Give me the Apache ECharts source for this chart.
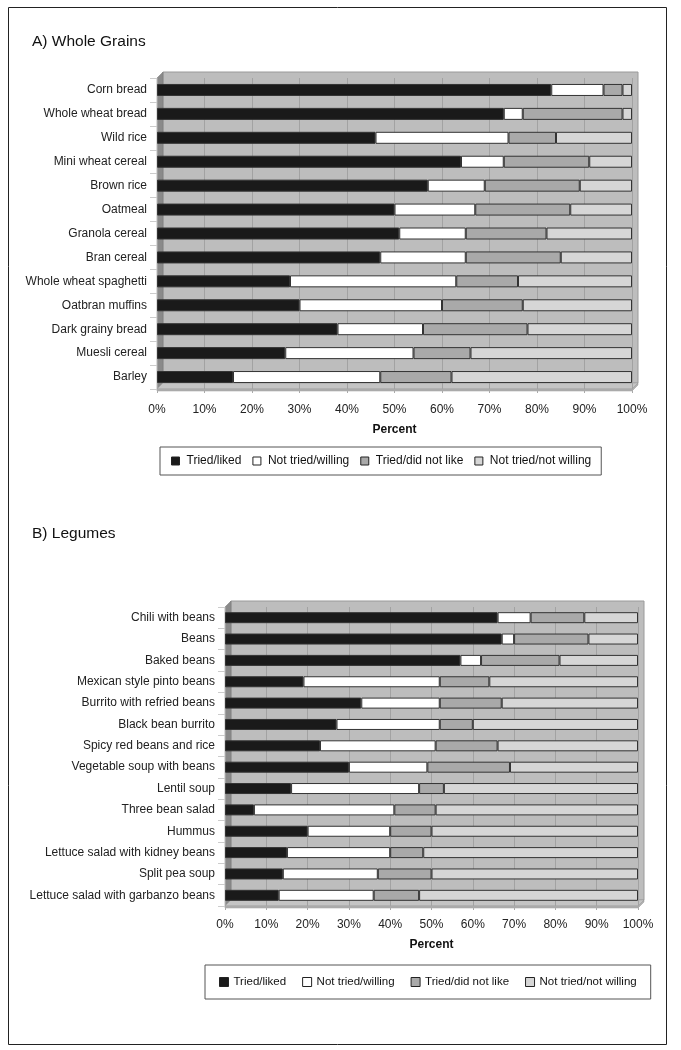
<!DOCTYPE html>
<html><head><meta charset="utf-8">
<script src="https://cdn.jsdelivr.net/npm/echarts@6/dist/echarts.min.js"></script>
<style>html,body{margin:0;padding:0;background:#fff}#c{width:681px;height:1050px}</style>
</head><body><div id="c"></div>
<script>
// ---- Data ----
const seriesNames = ['Tried/liked', 'Not tried/willing', 'Tried/did not like', 'Not tried/not willing'];
const grainCats = ['Corn bread','Whole wheat bread','Wild rice','Mini wheat cereal','Brown rice','Oatmeal','Granola cereal','Bran cereal','Whole wheat spaghetti','Oatbran muffins','Dark grainy bread','Muesli cereal','Barley'];
const grainLiked      = [83,73,46,64,57,50,51,47,28,30,38,27,16];
const grainWilling    = [11, 4,28, 9,12,17,14,18,35,30,18,27,31];
const grainDislike    = [ 4,21,10,18,20,20,17,20,13,17,22,12,15];
const grainNotWilling = [ 2, 2,16, 9,11,13,18,15,24,23,22,34,38];

const legumeCats = ['Chili with beans','Beans','Baked beans','Mexican style pinto beans','Burrito with refried beans','Black bean burrito','Spicy red beans and rice','Vegetable soup with beans','Lentil soup','Three bean salad','Hummus','Lettuce salad with kidney beans','Split pea soup','Lettuce salad with garbanzo beans'];
const legumeLiked      = [66,67,57,19,33,27,23,30,16, 7,20,15,14,13];
const legumeWilling    = [ 8, 3, 5,33,19,25,28,19,31,34,20,25,23,23];
const legumeDislike    = [13,18,19,12,15, 8,15,20, 6,10,10, 8,13,11];
const legumeNotWilling = [13,12,19,36,33,40,34,31,47,49,50,52,50,53];

const xTicks = [0,10,20,30,40,50,60,70,80,90,100];

// ---- Styles / layout ----
const colors = ['#1a1a1a', '#ffffff', '#a9a9a9', '#d6d6d6'];
const G1 = {left:157, right:632, top:78, bottom:389};
const G2 = {left:225, right:638, top:607, bottom:906};
const D = 6; // 3D depth

function planes(g){
  return [
    {type:'rect', z:-10, shape:{x:g.left+D, y:g.top-D, width:g.right-g.left, height:g.bottom-g.top}, style:{fill:'#bdbdbd', stroke:'#9a9a9a', lineWidth:1}},
    {type:'polygon', z:-9, shape:{points:[[g.left,g.top],[g.left+D,g.top-D],[g.left+D,g.bottom-D],[g.left,g.bottom]]}, style:{fill:'#8a8a8a', stroke:'#777', lineWidth:0.5}},
    {type:'polygon', z:-9, shape:{points:[[g.left,g.bottom],[g.left+D,g.bottom-D],[g.right+D,g.bottom-D],[g.right,g.bottom]]}, style:{fill:'#c4c4c4', stroke:'#999', lineWidth:0.5}},
    {type:'polygon', z:-9, shape:{points:[[g.left,g.bottom],[g.right,g.bottom],[g.right+D,g.bottom-D],[g.right+D,g.bottom-D+2],[g.right,g.bottom+2],[g.left,g.bottom+2]]}, style:{fill:'#b0b0b0', stroke:'#999', lineWidth:0.5}}
  ];
}

const FF = 'Liberation Sans, Arial, sans-serif';
const labelFont = {fontFamily:FF, fontSize:12, color:'#222'};

function xAxis(gi, margin, gap){
  return {
    gridIndex: gi, type:'value', min:0, max:100, interval:10,
    axisLine:{show:false},
    axisTick:{show:true, length:4, lineStyle:{color:'#aaa'}},
    axisLabel:Object.assign({formatter:'{value}%', margin:margin}, labelFont),
    splitLine:{show:true, lineStyle:{color:'#a2a2a2', width:1}},
    name:'Percent', nameLocation:'middle', nameGap:gap,
    nameTextStyle:{fontFamily:FF, fontSize:12, fontWeight:'bold', color:'#111'}
  };
}
function yAxis(gi, cats){
  return {
    gridIndex: gi, type:'category', data:cats, inverse:true,
    axisLine:{show:false},
    axisTick:{show:true, length:7, lineStyle:{color:'#ccc'}},
    axisLabel:Object.assign({margin:10}, labelFont)
  };
}
function bars(gi, arrs, bw){
  return arrs.map((a,i)=>({
    name: seriesNames[i], type:'bar', stack:'s'+gi, xAxisIndex:gi, yAxisIndex:gi,
    data:a, barWidth:bw,
    itemStyle:{color:colors[i], borderColor:'#333', borderWidth:1},
    emphasis:{disabled:true}
  }));
}

const chart = echarts.init(document.getElementById('c'), null, {renderer:'canvas'});
chart.setOption({
  animation:false,
  backgroundColor:'#fff',
  title:[
    {text:'A) Whole Grains', left:27, top:29, textStyle:{fontFamily:FF, fontSize:15.5, fontWeight:'normal', color:'#111'}},
    {text:'B) Legumes', left:27, top:521, textStyle:{fontFamily:FF, fontSize:15.5, fontWeight:'normal', color:'#111'}}
  ],
  grid:[
    {left:G1.left, width:G1.right-G1.left, top:G1.top, height:G1.bottom-G1.top, containLabel:false},
    {left:G2.left, width:G2.right-G2.left, top:G2.top, height:G2.bottom-G2.top, containLabel:false}
  ],
  xAxis:[xAxis(0, 15, 35), xAxis(1, 13, 33)],
  yAxis:[yAxis(0, grainCats), yAxis(1, legumeCats)],
  legend:[
    {data:seriesNames, left:160, top:447, orient:'horizontal', itemWidth:8, itemHeight:8, itemGap:11,
     padding:[8,10,8,11], borderColor:'#555', borderWidth:1, selectedMode:false,
     icon:'rect', itemStyle:{borderColor:'#222', borderWidth:1},
     textStyle:{fontFamily:FF, fontSize:12, color:'#111', padding:[0,0,0,2]}},
    {data:seriesNames, left:205, top:965, orient:'horizontal', itemWidth:9, itemHeight:9, itemGap:16,
     padding:[11,14,11,14], borderColor:'#555', borderWidth:1, selectedMode:false,
     icon:'rect', itemStyle:{borderColor:'#222', borderWidth:1},
     textStyle:{fontFamily:FF, fontSize:11.5, color:'#111'}}
  ],
  graphic:[
    {type:'rect', z:-20, shape:{x:8.5, y:7.5, width:658, height:1037}, style:{fill:'none', stroke:'#222', lineWidth:1}}
  ].concat(planes(G1), planes(G2)),
  series: bars(0, [grainLiked, grainWilling, grainDislike, grainNotWilling], 12)
    .concat(bars(1, [legumeLiked, legumeWilling, legumeDislike, legumeNotWilling], 11))
});
</script>
</body></html>
